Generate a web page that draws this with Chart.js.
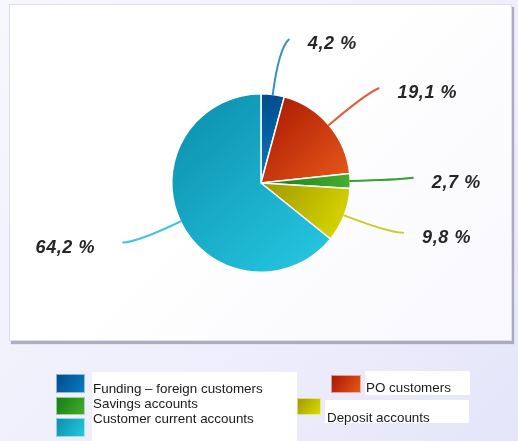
<!DOCTYPE html>
<html>
<head>
<meta charset="utf-8">
<title>Funding structure</title>
<script src="https://cdn.jsdelivr.net/npm/chart.js@4.4.1/dist/chart.umd.min.js"></script>
<style>
  html, body { margin: 0; padding: 0; }
  body {
    width: 518px; height: 441px; overflow: hidden; position: relative;
    background: linear-gradient(135deg, #f7f7fe 0%, #efeffc 55%, #e5e5fa 100%);
  }
  #panel {
    position: absolute; left: 9px; top: 4px; width: 503px; height: 337px;
    box-sizing: border-box;
    background: linear-gradient(135deg, #ffffff 45%, #f8f8fd 100%);
    border: 1px solid #dedee9;
    box-shadow: 2px 3px 1px rgba(150, 150, 172, 0.75);
  }
  #chart { position: absolute; left: 0; top: 0; }
</style>
</head>
<body>
<div id="panel"></div>
<canvas id="chart" width="518" height="441"></canvas>
<script>
// funding structure, shares in percent
const categories = [
  "Funding – foreign customers",
  "PO customers",
  "Savings accounts",
  "Deposit accounts",
  "Customer current accounts",
];
const shares = [4.2, 19.1, 2.7, 9.8, 64.2];

// slice shading: dark corner -> light corner
const shadeDark = ["#004a8a", "#a81500", "#137a13", "#9e9800", "#0a8daa"];
const shadeLight = ["#0a7dc2", "#e85a1c", "#45b030", "#dede00", "#27c9e4"];
const leaderColors = ["#3b8ec6", "#e0603c", "#2fa22f", "#cdcd24", "#4bc3dc"];

// legend layout (box and text anchor per category), white patches behind the text
const legendSlots = [
  { box: [56, 374, 29, 19], text: [93, 393] },
  { box: [331, 375, 30, 18], text: [366, 392] },
  { box: [56, 397, 29, 18], text: [93, 408] },
  { box: [297, 398, 24, 17], text: [327, 422] },
  { box: [56, 418, 29, 19], text: [93, 423] },
];
const legendPatches = [[92, 372, 205, 69], [365, 371, 105, 24], [325, 400, 144, 23]];

function pctText(v) {
  return v.toFixed(1).replace(".", ",") + " %";
}

// gradient spread over the bounding box of one sector
function sectorFill(context) {
  const chart = context.chart;
  const area = chart.chartArea;
  const i = context.dataIndex;
  if (!area || i === undefined) return shadeDark[i || 0];
  const cx = (area.left + area.right) / 2;
  const cy = (area.top + area.bottom) / 2;
  const r = Math.min(area.width, area.height) / 2;
  const total = shares.reduce((a, b) => a + b, 0);
  let before = 0;
  for (let k = 0; k < i; k++) before += shares[k];
  const a0 = -Math.PI / 2 + (before / total) * 2 * Math.PI;
  const a1 = a0 + (shares[i] / total) * 2 * Math.PI;
  const xs = [cx], ys = [cy];
  for (let s = 0; s <= 24; s++) {
    const a = a0 + ((a1 - a0) * s) / 24;
    xs.push(cx + r * Math.cos(a));
    ys.push(cy + r * Math.sin(a));
  }
  const g = chart.ctx.createLinearGradient(
    Math.min(...xs), Math.min(...ys), Math.max(...xs), Math.max(...ys)
  );
  g.addColorStop(0, shadeDark[i]);
  g.addColorStop(1, shadeLight[i]);
  return g;
}

// curved leader lines with the share written at the end
const pieCallouts = {
  id: "pieCallouts",
  afterDatasetsDraw(chart) {
    const ctx = chart.ctx;
    const meta = chart.getDatasetMeta(0);
    ctx.save();
    meta.data.forEach((arc, i) => {
      const p = arc.getProps(["x", "y", "startAngle", "endAngle", "outerRadius"], true);
      const mid = (p.startAngle + p.endAngle) / 2;
      const c = Math.cos(mid), s = Math.sin(mid);
      const R = p.outerRadius;
      const side = c >= 0 ? 1 : -1;
      const sx = p.x + c * R, sy = p.y + s * R;
      const qx = p.x + c * R * 1.52, qy = p.y + s * R * 1.52;
      const ex = p.x + c * R * 1.6 + side * 9, ey = p.y + s * R * 1.6 - 2;

      ctx.beginPath();
      ctx.moveTo(sx, sy);
      ctx.quadraticCurveTo(qx, qy, ex, ey);
      ctx.strokeStyle = leaderColors[i];
      ctx.lineWidth = 2;
      ctx.lineCap = "round";
      ctx.stroke();

      ctx.font = "italic bold 18px 'Liberation Sans', Arial, sans-serif";
      ctx.letterSpacing = "0.6px";
      ctx.fillStyle = "#262626";
      ctx.textBaseline = "middle";
      ctx.textAlign = side > 0 ? "left" : "right";
      ctx.fillText(pctText(chart.data.datasets[0].data[i]), ex + side * (side > 0 ? 19 : 28), ey + 5);
    });
    ctx.restore();
  },
};

// legend drawn in the bottom strip
const stripLegend = {
  id: "stripLegend",
  afterDraw(chart) {
    const ctx = chart.ctx;
    ctx.save();
    ctx.fillStyle = "#ffffff";
    legendPatches.forEach(([x, y, w, h]) => ctx.fillRect(x, y, w, h));
    chart.data.labels.forEach((label, i) => {
      const [bx, by, bw, bh] = legendSlots[i].box;
      const g = ctx.createLinearGradient(bx, by, bx + bw, by + bh);
      g.addColorStop(0, shadeDark[i]);
      g.addColorStop(1, shadeLight[i]);
      ctx.fillStyle = g;
      ctx.fillRect(bx, by, bw, bh);
      ctx.strokeStyle = "rgba(255,255,255,0.55)";
      ctx.lineWidth = 1;
      ctx.strokeRect(bx + 0.5, by + 0.5, bw - 1, bh - 1);

      const [tx, ty] = legendSlots[i].text;
      ctx.font = "13.4px 'Liberation Sans', Arial, sans-serif";
      ctx.fillStyle = "#1a1a1a";
      ctx.textAlign = "left";
      ctx.textBaseline = "alphabetic";
      ctx.fillText(label, tx, ty);
    });
    ctx.restore();
  },
};

new Chart(document.getElementById("chart").getContext("2d"), {
  type: "pie",
  data: {
    labels: categories,
    datasets: [
      {
        data: shares,
        backgroundColor: sectorFill,
        borderColor: "#ffffff",
        borderWidth: 1.5,
      },
    ],
  },
  options: {
    responsive: false,
    animation: false,
    layout: { padding: { left: 171, right: 167, top: 93, bottom: 168 } },
    plugins: {
      legend: { display: false },
      tooltip: { enabled: false },
    },
  },
  plugins: [pieCallouts, stripLegend],
});
</script>
</body>
</html>
